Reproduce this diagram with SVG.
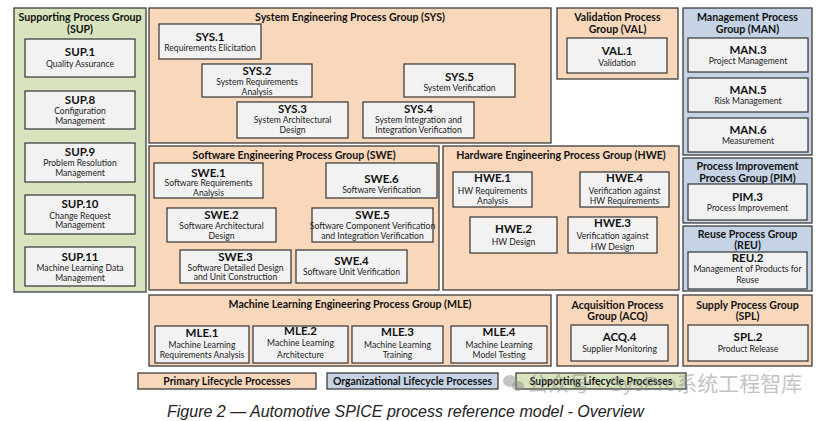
<svg xmlns="http://www.w3.org/2000/svg" width="824" height="421" viewBox="0 0 824 421">
<style>
text{font-family:Lato,"Liberation Sans",sans-serif;fill:#111;text-anchor:middle}
.go{fill:#F9D7BA;stroke:#3d3d3d;stroke-width:1.3}
.gb{fill:#C5D3E5;stroke:#3d3d3d;stroke-width:1.3}
.gg{fill:#D8E4BE;stroke:#3d3d3d;stroke-width:1.3}
.bx{fill:#F2F2F2;stroke:#333;stroke-width:1.2}
.gt{font-size:10.6px;font-weight:bold}
.bt{font-size:11.5px;font-weight:bold}
.bs{font-size:8.6px;fill:#222}
.lg{font-size:10.4px;font-weight:bold}
.cap{font-family:"Liberation Sans",Arial,sans-serif;font-style:italic;font-size:16px;text-anchor:start;fill:#222}
.wm{font-family:"Liberation Sans","Noto Sans CJK SC",sans-serif;font-size:21px;fill:#8a8a8a;opacity:0.5;text-anchor:start}
</style>
<rect width="824" height="421" fill="#fff"/>

<g id="SUP">
<rect class="gg" x="14" y="8" width="132" height="284"/>
<text class="gt" x="80" y="21">Supporting Process Group</text>
<text class="gt" x="80" y="33">(SUP)</text>
<g id="SUP.1"><rect class="bx" x="25" y="39" width="110" height="38"/><text class="bt" x="80" y="56">SUP.1</text><text class="bs" x="80" y="67">Quality Assurance</text></g>
<g id="SUP.8"><rect class="bx" x="25" y="91" width="110" height="38"/><text class="bt" x="80" y="104">SUP.8</text><text class="bs" x="80" y="114">Configuration</text><text class="bs" x="80" y="124">Management</text></g>
<g id="SUP.9"><rect class="bx" x="25" y="143" width="110" height="39"/><text class="bt" x="80" y="156">SUP.9</text><text class="bs" x="80" y="166">Problem Resolution</text><text class="bs" x="80" y="176">Management</text></g>
<g id="SUP.10"><rect class="bx" x="25" y="195" width="110" height="39"/><text class="bt" x="80" y="208">SUP.10</text><text class="bs" x="80" y="219">Change Request</text><text class="bs" x="80" y="228">Management</text></g>
<g id="SUP.11"><rect class="bx" x="25" y="247" width="110" height="39"/><text class="bt" x="80" y="261">SUP.11</text><text class="bs" x="80" y="271">Machine Learning Data</text><text class="bs" x="80" y="281">Management</text></g>
</g>

<g id="SYS">
<rect class="go" x="149" y="8" width="402" height="135"/>
<text class="gt" x="350" y="21">System Engineering Process Group (SYS)</text>
<g id="SYS.1"><rect class="bx" x="159" y="24" width="102" height="35"/><text class="bt" x="210" y="41">SYS.1</text><text class="bs" x="210" y="51">Requirements Elicitation</text></g>
<g id="SYS.2"><rect class="bx" x="202" y="64" width="110" height="33"/><text class="bt" x="257" y="75">SYS.2</text><text class="bs" x="257" y="85">System Requirements</text><text class="bs" x="257" y="95">Analysis</text></g>
<g id="SYS.5"><rect class="bx" x="404" y="64" width="111" height="33"/><text class="bt" x="459.5" y="81">SYS.5</text><text class="bs" x="459.5" y="91">System Verification</text></g>
<g id="SYS.3"><rect class="bx" x="237" y="102" width="111" height="36"/><text class="bt" x="292.5" y="113">SYS.3</text><text class="bs" x="292.5" y="123">System Architectural</text><text class="bs" x="292.5" y="133">Design</text></g>
<g id="SYS.4"><rect class="bx" x="363" y="102" width="111" height="36"/><text class="bt" x="418.5" y="113">SYS.4</text><text class="bs" x="418.5" y="123">System Integration and</text><text class="bs" x="418.5" y="133">Integration Verification</text></g>
</g>

<g id="VAL">
<rect class="go" x="557" y="8" width="121" height="71"/>
<text class="gt" x="617.5" y="21">Validation Process</text>
<text class="gt" x="617.5" y="33">Group (VAL)</text>
<g id="VAL.1"><rect class="bx" x="567" y="38" width="100" height="35"/><text class="bt" x="617" y="55">VAL.1</text><text class="bs" x="617" y="66">Validation</text></g>
</g>

<g id="MAN">
<rect class="gb" x="683" y="8" width="129" height="147"/>
<text class="gt" x="747.5" y="21">Management Process</text>
<text class="gt" x="747.5" y="33">Group (MAN)</text>
<g id="MAN.3"><rect class="bx" x="688" y="38" width="120" height="34"/><text class="bt" x="748" y="54">MAN.3</text><text class="bs" x="748" y="64">Project Management</text></g>
<g id="MAN.5"><rect class="bx" x="688" y="78" width="120" height="34"/><text class="bt" x="748" y="94">MAN.5</text><text class="bs" x="748" y="104">Risk Management</text></g>
<g id="MAN.6"><rect class="bx" x="688" y="118" width="120" height="34"/><text class="bt" x="748" y="134">MAN.6</text><text class="bs" x="748" y="144">Measurement</text></g>
</g>

<g id="SWE">
<rect class="go" x="149" y="146" width="290" height="144"/>
<text class="gt" x="294" y="159">Software Engineering Process Group (SWE)</text>
<g id="SWE.1"><rect class="bx" x="154" y="163" width="109" height="35"/><text class="bt" x="208.5" y="177">SWE.1</text><text class="bs" x="208.5" y="186">Software Requirements</text><text class="bs" x="208.5" y="196">Analysis</text></g>
<g id="SWE.6"><rect class="bx" x="326" y="163" width="111" height="35"/><text class="bt" x="381.5" y="183">SWE.6</text><text class="bs" x="381.5" y="193">Software Verification</text></g>
<g id="SWE.2"><rect class="bx" x="167" y="208" width="109" height="34"/><text class="bt" x="221.5" y="219">SWE.2</text><text class="bs" x="221.5" y="229">Software Architectural</text><text class="bs" x="221.5" y="239">Design</text></g>
<g id="SWE.5"><rect class="bx" x="312" y="208" width="121" height="34"/><text class="bt" x="372.5" y="219">SWE.5</text><text class="bs" x="372.5" y="229">Software Component Verification</text><text class="bs" x="372.5" y="239">and Integration Verification</text></g>
<g id="SWE.3"><rect class="bx" x="180" y="250" width="111" height="33"/><text class="bt" x="235.5" y="261">SWE.3</text><text class="bs" x="235.5" y="271">Software Detailed Design</text><text class="bs" x="235.5" y="280">and Unit Construction</text></g>
<g id="SWE.4"><rect class="bx" x="296" y="250" width="111" height="33"/><text class="bt" x="351.5" y="265">SWE.4</text><text class="bs" x="351.5" y="275">Software Unit Verification</text></g>
</g>

<g id="HWE">
<rect class="go" x="443" y="146" width="236" height="144"/>
<text class="gt" x="561" y="159">Hardware Engineering Process Group (HWE)</text>
<g id="HWE.1"><rect class="bx" x="453" y="172" width="79" height="35"/><text class="bt" x="492.5" y="182">HWE.1</text><text class="bs" x="492.5" y="194">HW Requirements</text><text class="bs" x="492.5" y="204">Analysis</text></g>
<g id="HWE.4"><rect class="bx" x="580" y="172" width="89" height="35"/><text class="bt" x="624.5" y="182">HWE.4</text><text class="bs" x="624.5" y="194">Verification against</text><text class="bs" x="624.5" y="204">HW Requirements</text></g>
<g id="HWE.2"><rect class="bx" x="470" y="217" width="87" height="36"/><text class="bt" x="513.5" y="233">HWE.2</text><text class="bs" x="513.5" y="245">HW Design</text></g>
<g id="HWE.3"><rect class="bx" x="568" y="217" width="89" height="36"/><text class="bt" x="612.5" y="227">HWE.3</text><text class="bs" x="612.5" y="239">Verification against</text><text class="bs" x="612.5" y="250">HW Design</text></g>
</g>

<g id="PIM">
<rect class="gb" x="683" y="158" width="129" height="65"/>
<text class="gt" x="747.5" y="170">Process Improvement</text>
<text class="gt" x="747.5" y="182">Process Group (PIM)</text>
<g id="PIM.3"><rect class="bx" x="688" y="184" width="119" height="36"/><text class="bt" x="747.5" y="201">PIM.3</text><text class="bs" x="747.5" y="211">Process Improvement</text></g>
</g>

<g id="REU">
<rect class="gb" x="683" y="226" width="129" height="65"/>
<text class="gt" x="747.5" y="238">Reuse Process Group</text>
<text class="gt" x="747.5" y="249">(REU)</text>
<g id="REU.2"><rect class="bx" x="688" y="252" width="119" height="37"/><text class="bt" x="747.5" y="262">REU.2</text><text class="bs" x="747.5" y="272">Management of Products for</text><text class="bs" x="747.5" y="283">Reuse</text></g>
</g>

<g id="MLE">
<rect class="go" x="149" y="295" width="402" height="71"/>
<text class="gt" x="350" y="308">Machine Learning Engineering Process Group (MLE)</text>
<g id="MLE.1"><rect class="bx" x="155" y="326" width="94" height="37"/><text class="bt" x="202" y="337">MLE.1</text><text class="bs" x="202" y="348">Machine Learning</text><text class="bs" x="202" y="358">Requirements Analysis</text></g>
<g id="MLE.2"><rect class="bx" x="253" y="326" width="95" height="37"/><text class="bt" x="300.5" y="335">MLE.2</text><text class="bs" x="300.5" y="346">Machine Learning</text><text class="bs" x="300.5" y="358">Architecture</text></g>
<g id="MLE.3"><rect class="bx" x="352" y="326" width="91" height="37"/><text class="bt" x="397.5" y="336">MLE.3</text><text class="bs" x="397.5" y="348">Machine Learning</text><text class="bs" x="397.5" y="358">Training</text></g>
<g id="MLE.4"><rect class="bx" x="451" y="326" width="96" height="37"/><text class="bt" x="499" y="336">MLE.4</text><text class="bs" x="499" y="348">Machine Learning</text><text class="bs" x="499" y="358">Model Testing</text></g>
</g>

<g id="ACQ">
<rect class="go" x="557" y="295" width="121" height="71"/>
<text class="gt" x="617.5" y="309">Acquisition Process</text>
<text class="gt" x="617.5" y="320">Group (ACQ)</text>
<g id="ACQ.4"><rect class="bx" x="571" y="325" width="97" height="36"/><text class="bt" x="619.5" y="341">ACQ.4</text><text class="bs" x="619.5" y="352">Supplier Monitoring</text></g>
</g>

<g id="SPL">
<rect class="go" x="683" y="295" width="129" height="71"/>
<text class="gt" x="747.5" y="309">Supply Process Group</text>
<text class="gt" x="747.5" y="320">(SPL)</text>
<g id="SPL.2"><rect class="bx" x="688" y="325" width="120" height="36"/><text class="bt" x="748" y="341">SPL.2</text><text class="bs" x="748" y="352">Product Release</text></g>
</g>

<g id="connectors"></g>

<g id="legend">
<g id="legend-primary"><rect class="go" x="138" y="373" width="178" height="16"/><text class="lg" x="227" y="385">Primary Lifecycle Processes</text></g>
<g id="legend-organizational"><rect class="gb" x="327" y="373" width="171" height="16"/><text class="lg" x="412.5" y="385">Organizational Lifecycle Processes</text></g>
<g id="legend-supporting"><rect class="gg" x="516" y="373" width="170" height="16"/><text class="lg" x="601" y="385">Supporting Lifecycle Processes</text></g>
</g>

<g id="watermark">
<ellipse cx="510" cy="381" rx="7" ry="6" fill="#8a8a8a" opacity="0.5"/>
<ellipse cx="518" cy="386" rx="6" ry="5" fill="#8a8a8a" opacity="0.5"/>
<text class="wm" x="527" y="391">公众号 · SysPro系统工程智库</text>
</g>

<text class="cap" x="167" y="417">Figure 2 — Automotive SPICE process reference model - Overview</text>
</svg>
